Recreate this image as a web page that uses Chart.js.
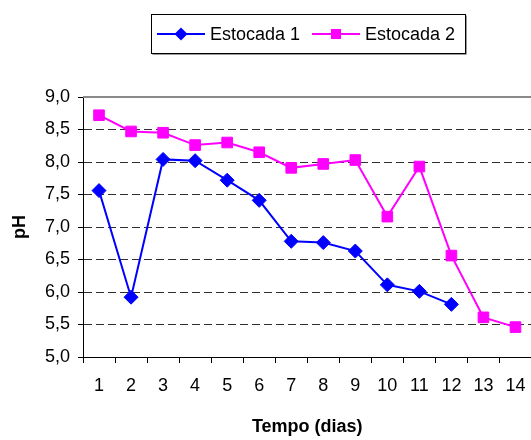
<!DOCTYPE html>
<html>
<head>
<meta charset="utf-8">
<script src="https://cdn.jsdelivr.net/npm/chart.js@4/dist/chart.umd.min.js"></script>
<style>
  html, body { margin: 0; padding: 0; background: #fff; overflow: hidden; }
  #wrap { width: 540px; height: 440px; position: relative; }
</style>
</head>
<body>
<div id="wrap"><canvas id="c"></canvas></div>
<script>
// ---- data ----
const categories = ['1','2','3','4','5','6','7','8','9','10','11','12','13','14'];
const seriesNames = ['Estocada 1', 'Estocada 2'];
const estocada1 = [7.56, 5.92, 8.04, 8.02, 7.72, 7.41, 6.78, 6.76, 6.63, 6.11, 6.01, 5.81, null, null];
const estocada2 = [8.72, 8.47, 8.45, 8.26, 8.30, 8.15, 7.91, 7.97, 8.03, 7.16, 7.93, 6.56, 5.61, 5.46];
const yTicks = [5.0, 5.5, 6.0, 6.5, 7.0, 7.5, 8.0, 8.5, 9.0];
const xTitle = 'Tempo (dias)';
const yTitle = 'pH';

const FONT = "'Liberation Sans', Arial, sans-serif";

// custom legend (line + marker) drawn on the chart canvas
const legendPlugin = {
  id: 'boxLegend',
  afterDraw(chart) {
    const ctx = chart.ctx;
    const x0 = 151.5, y0 = 14.5, w = 314, h = 39;
    ctx.save();
    ctx.strokeStyle = '#9a9a9a';
    ctx.lineWidth = 1;
    ctx.beginPath();
    ctx.moveTo(x0 + 1, y0 + h + 1); ctx.lineTo(x0 + w + 1, y0 + h + 1); ctx.lineTo(x0 + w + 1, y0 + 1);
    ctx.stroke();
    ctx.strokeStyle = '#000';
    ctx.strokeRect(x0, y0, w, h);
    const items = [
      {lx: 157, tx: 210},
      {lx: 312, tx: 365}
    ];
    const cy = y0 + h / 2;
    chart.data.datasets.forEach((ds, i) => {
      const it = items[i];
      ctx.strokeStyle = ds.borderColor;
      ctx.lineWidth = 2;
      ctx.beginPath(); ctx.moveTo(it.lx, cy); ctx.lineTo(it.lx + 48, cy); ctx.stroke();
      ctx.fillStyle = ds.backgroundColor;
      const mx = it.lx + 24;
      if (ds.pointStyle === 'rectRot') {
        ctx.beginPath();
        ctx.moveTo(mx, cy - 6.5); ctx.lineTo(mx + 6.5, cy); ctx.lineTo(mx, cy + 6.5); ctx.lineTo(mx - 6.5, cy);
        ctx.closePath(); ctx.fill();
      } else {
        ctx.fillRect(mx - 5, cy - 5, 10, 10);
      }
      ctx.fillStyle = '#000';
      ctx.font = '18px ' + FONT;
      ctx.textBaseline = 'middle';
      ctx.textAlign = 'left';
      ctx.fillText(ds.label, it.tx, cy + 1);
    });
    ctx.restore();
  }
};

// gray top frame line of the plot area
const framePlugin = {
  id: 'frameTop',
  beforeDatasetsDraw(chart) {
    const {ctx, chartArea} = chart;
    ctx.save();
    ctx.strokeStyle = '#8a8a8a';
    ctx.lineWidth = 2;
    ctx.beginPath();
    ctx.moveTo(chartArea.left, chartArea.top);
    ctx.lineTo(chartArea.right + 2, chartArea.top);
    ctx.stroke();
    ctx.restore();
  }
};

new Chart(document.getElementById('c'), {
  type: 'line',
  data: {
    labels: categories,
    datasets: [
      {
        label: seriesNames[0],
        data: estocada1,
        borderColor: '#0000FF',
        backgroundColor: '#0000FF',
        borderWidth: 2,
        pointStyle: 'rectRot',
        pointRadius: 7,
        pointBorderWidth: 1,
        pointHoverRadius: 7,
        tension: 0,
        spanGaps: false
      },
      {
        label: seriesNames[1],
        data: estocada2,
        borderColor: '#FF00FF',
        backgroundColor: '#FF00FF',
        borderWidth: 2,
        pointStyle: 'rect',
        pointRadius: 7.5,
        pointBorderWidth: 1,
        pointHoverRadius: 7.5,
        tension: 0
      }
    ]
  },
  options: {
    responsive: true,
    maintainAspectRatio: false,
    animation: false,
    layout: { padding: { top: 97, right: 4, left: 0, bottom: 0 } },
    plugins: {
      legend: { display: false },
      tooltip: { enabled: false }
    },
    scales: {
      x: {
        type: 'category',
        offset: true,
        afterFit(s) { s.height = 83; },
        grid: {
          display: true,
          offset: true,
          drawOnChartArea: false,
          drawTicks: true,
          tickLength: 6,
          tickColor: '#000',
          tickWidth: 1
        },
        border: { display: true, color: '#000', width: 1 },
        ticks: {
          color: '#000',
          font: { family: FONT, size: 18 },
          padding: 12,
          maxRotation: 0,
          autoSkip: false
        },
        title: {
          display: true,
          text: xTitle,
          color: '#000',
          font: { family: FONT, size: 18, weight: 'bold' },
          padding: { top: 0, bottom: 2 }
        }
      },
      y: {
        min: 5,
        max: 9,
        afterFit(s) { s.width = 83; },
        afterBuildTicks(s) { s.ticks = yTicks.map(v => ({ value: v })); },
        grid: {
          color: (c) => (c.tick && (c.tick.value === 9 || c.tick.value === 5)) ? 'rgba(0,0,0,0)' : '#303030',
          lineWidth: 1,
          drawTicks: true,
          tickLength: 5,
          tickColor: '#000',
          tickBorderDash: [],
          tickWidth: 1
        },
        border: { display: true, color: '#000', width: 1, dash: [8, 4] },
        ticks: {
          color: '#000',
          font: { family: FONT, size: 18 },
          padding: 8,
          callback: (v) => Number(v).toFixed(1).replace('.', ',')
        },
        title: {
          display: true,
          text: yTitle,
          color: '#000',
          font: { family: FONT, size: 18, weight: 'bold' },
          padding: { top: 9, bottom: 0 }
        }
      }
    }
  },
  plugins: [framePlugin, legendPlugin]
});
</script>
</body>
</html>
